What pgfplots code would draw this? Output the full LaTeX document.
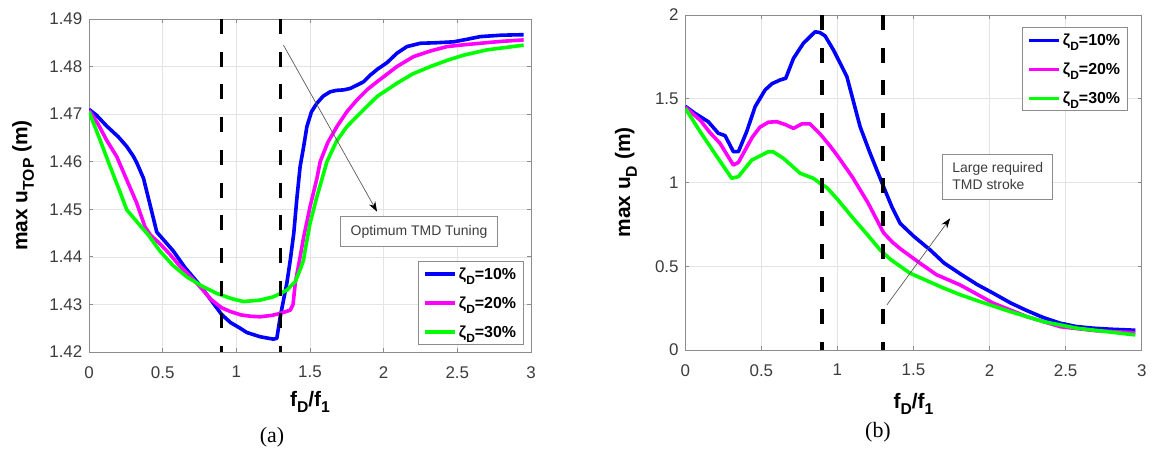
\documentclass[border=0pt]{standalone}
\usepackage{pgfplots}
\pgfplotsset{compat=1.18}
\usepackage{fontspec}
\setmainfont{Liberation Sans}
\newfontfamily\capfont{Liberation Serif}
\usetikzlibrary{arrows.meta}
\definecolor{mblue}{RGB}{0,0,255}
\definecolor{mmag}{RGB}{255,0,255}
\definecolor{mgreen}{RGB}{0,255,0}
\definecolor{tickgray}{RGB}{60,60,60}
\definecolor{framegray}{RGB}{140,140,140}
\definecolor{gridgray}{RGB}{228,228,228}
\newcommand\msub[1]{\raisebox{-0.32em}{\scalebox{0.75}{#1}}}

\pgfplotsset{
 mystyle/.style={
  scale only axis, anchor=south west,
  xmin=0, xmax=3, xtick={0,0.5,1,1.5,2,2.5,3},
  axis line style={framegray, line width=0.8bp},
  grid=major, grid style={gridgray, line width=0.6bp},
  tick align=inside, major tick length=4bp, tick style={framegray, line width=0.8bp},
  ticklabel style={font=\fontsize{17}{19}\selectfont, text=tickgray},
  /pgf/number format/assume math mode=true,
  yticklabel style={anchor=east, inner sep=0pt, xshift=-6.5bp},
  xticklabel style={anchor=north, inner sep=0pt, yshift=-14bp},
  label style={font=\fontsize{21}{24}\selectfont\bfseries},
  legend style={draw=framegray, fill=white, font=\fontsize{16}{18}\selectfont\bfseries, inner xsep=5bp, inner ysep=4bp, row sep=12bp, line width=0.8bp},
  legend cell align=left,
  legend image code/.code={\draw[#1] (0bp,0bp) -- (30bp,0bp);},
  every axis plot/.append style={line width=3.6bp, line join=round},
 }
}

\begin{document}
\begin{tikzpicture}
%%%%%%%%%%%%%%%% (a)
\begin{axis}[mystyle,
  at={(89bp,98bp)}, width=442bp, height=333bp,
  ymin=1.42, ymax=1.49, ytick={1.42,1.43,1.44,1.45,1.46,1.47,1.48,1.49},
  yticklabel style={/pgf/number format/.cd, fixed, fixed zerofill, precision=2},
  xlabel={f\msub{D}/f\msub{1}},
  ylabel={max u\msub{TOP} (m)},
  xlabel style={at={(axis description cs:0.5,-0.15)}, anchor=center},
  ylabel style={at={(axis description cs:-0.149,0.5)}, anchor=center},
  legend style={at={(0.983,0.021)}, anchor=south east},
]
\addplot[mblue] coordinates {
(0,1.4710) (0.05,1.4698) (0.12,1.4675) (0.2,1.4652) (0.256,1.4632) (0.3,1.4612)
(0.324,1.4598) (0.37,1.4565) (0.41,1.4515) (0.46,1.4452) (0.50,1.4438) (0.573,1.4412)
(0.65,1.4378) (0.754,1.4340) (0.845,1.4302) (0.9,1.4279) (0.96,1.4262)
(1.026,1.4250) (1.071,1.4241) (1.162,1.4232) (1.252,1.4227) (1.275,1.4229) (1.298,1.4274)
(1.343,1.4345) (1.366,1.4393) (1.39,1.4450) (1.41,1.4520) (1.433,1.4590) (1.456,1.4630)
(1.479,1.4674) (1.51,1.4705) (1.547,1.4723) (1.59,1.4738) (1.637,1.4747) (1.68,1.4750)
(1.728,1.4751) (1.773,1.4754) (1.819,1.4761) (1.864,1.4768) (1.909,1.4782) (1.96,1.4795)
(2.022,1.4808) (2.09,1.4828) (2.158,1.4842) (2.249,1.4849) (2.35,1.4850) (2.475,1.4852)
(2.56,1.4857) (2.656,1.4863) (2.80,1.4866) (2.95,1.4867)};
\addlegendentry{ζ\msub{D}=10\%}
\addplot[mmag] coordinates {
(0,1.4708) (0.06,1.4680) (0.12,1.4645) (0.188,1.4611) (0.256,1.4562) (0.324,1.4513)
(0.38,1.4463) (0.42,1.4445) (0.48,1.4428) (0.55,1.4405) (0.618,1.4380) (0.7,1.4355)
(0.754,1.4337) (0.83,1.4310) (0.9,1.4293) (0.96,1.4285) (1.03,1.4278) (1.1,1.4275)
(1.162,1.4274) (1.24,1.4277) (1.298,1.4281) (1.366,1.4288) (1.385,1.4300) (1.40,1.4345)
(1.433,1.4400) (1.456,1.4440) (1.50,1.4505) (1.547,1.4565) (1.569,1.4600) (1.62,1.4640)
(1.683,1.4674) (1.75,1.4705) (1.819,1.4730) (1.89,1.4752) (1.955,1.4768) (2.09,1.4800)
(2.203,1.4821) (2.32,1.4833) (2.43,1.4842) (2.55,1.4846) (2.656,1.4849) (2.80,1.4853)
(2.95,1.4856)};
\addlegendentry{ζ\msub{D}=20\%}
\addplot[mgreen] coordinates {
(0,1.4705) (0.07,1.4650) (0.143,1.4590) (0.2,1.4545) (0.256,1.4499) (0.33,1.4472)
(0.40,1.4447) (0.482,1.4412) (0.57,1.4382) (0.664,1.4358) (0.77,1.4338) (0.868,1.4323)
(0.97,1.4312) (1.048,1.4306) (1.16,1.4309) (1.252,1.4316) (1.343,1.4330) (1.40,1.4348)
(1.433,1.4373) (1.456,1.4393) (1.467,1.4414) (1.50,1.4470) (1.55,1.4530) (1.615,1.4600)
(1.68,1.4643) (1.751,1.4674) (1.85,1.4705) (1.955,1.4737) (2.09,1.4765) (2.2,1.4785)
(2.317,1.4800) (2.43,1.4813) (2.543,1.4824) (2.70,1.4835) (2.95,1.4845)};
\addlegendentry{ζ\msub{D}=30\%}
\addplot[black, line width=3.6bp, dash pattern=on 15bp off 17.7bp, forget plot] coordinates {(0.9,1.49) (0.9,1.42)};
\addplot[black, line width=3.6bp, dash pattern=on 15bp off 17.7bp, forget plot] coordinates {(1.3,1.49) (1.3,1.42)};
\draw[gray!70!black, line width=0.7bp, -{Stealth[black, length=10bp, width=7bp]}] (axis cs:1.32,1.4845) -- (axis cs:1.955,1.4495);
\node[draw=framegray, fill=white, line width=0.8bp, minimum width=157bp, minimum height=30bp, inner sep=0pt, font=\fontsize{14}{16}\selectfont, text=tickgray] at (axis cs:2.24,1.4453) {Optimum TMD Tuning};
\end{axis}
%%%%%%%%%%%%%%%% (b)
\begin{axis}[mystyle,
  at={(685.3bp,100bp)}, width=456.4bp, height=335bp,
  ymin=0, ymax=2, ytick={0,0.5,1,1.5,2},
  xlabel={f\msub{D}/f\msub{1}},
  ylabel={max u\msub{D} (m)},
  xlabel style={at={(axis description cs:0.5,-0.161)}, anchor=center},
  ylabel style={at={(axis description cs:-0.130,0.5)}, anchor=center},
  legend style={at={(0.969,0.963)}, anchor=north east},
]
\addplot[mblue] coordinates {
(0,1.455) (0.06,1.415) (0.151,1.363) (0.217,1.294) (0.261,1.280) (0.29,1.23)
(0.316,1.184) (0.349,1.184) (0.404,1.305) (0.459,1.453) (0.524,1.552) (0.57,1.59)
(0.623,1.612) (0.66,1.622) (0.711,1.741) (0.776,1.831) (0.853,1.900) (0.885,1.895)
(0.919,1.875) (0.974,1.791) (1.062,1.632) (1.149,1.333) (1.215,1.174) (1.303,0.975)
(1.36,0.85) (1.412,0.756) (1.5,0.68) (1.61,0.597) (1.70,0.52) (1.807,0.455)
(1.92,0.39) (2.026,0.338) (2.14,0.28) (2.246,0.235) (2.35,0.195) (2.465,0.160)
(2.57,0.140) (2.684,0.130) (2.80,0.124) (2.958,0.118)};
\addlegendentry{ζ\msub{D}=10\%}
\addplot[mmag] coordinates {
(0,1.450) (0.1,1.37) (0.16,1.30) (0.228,1.234) (0.316,1.104) (0.349,1.120)
(0.44,1.27) (0.49,1.33) (0.546,1.360) (0.601,1.363) (0.66,1.345) (0.711,1.323)
(0.766,1.350) (0.82,1.350) (0.886,1.29) (0.95,1.22) (1.0,1.16) (1.1,1.03)
(1.2,0.88) (1.303,0.70) (1.36,0.645) (1.412,0.605) (1.543,0.518) (1.65,0.45) (1.807,0.388)
(2.026,0.279) (2.246,0.199) (2.465,0.139) (2.70,0.115) (2.958,0.103)};
\addlegendentry{ζ\msub{D}=20\%}
\addplot[mgreen] coordinates {
(0,1.443) (0.1,1.30) (0.2,1.165) (0.305,1.025) (0.349,1.035) (0.437,1.134)
(0.546,1.184) (0.58,1.182) (0.645,1.144) (0.70,1.10) (0.755,1.055) (0.842,1.025)
(0.886,0.995) (0.93,0.970) (1.0,0.90) (1.1,0.79) (1.2,0.685) (1.281,0.597)
(1.35,0.54) (1.478,0.458) (1.697,0.37) (1.807,0.33) (1.917,0.295) (2.136,0.229)
(2.355,0.169) (2.575,0.130) (2.958,0.090)};
\addlegendentry{ζ\msub{D}=30\%}
\addplot[black, line width=3.6bp, dash pattern=on 15bp off 17.7bp, forget plot] coordinates {(0.9,2) (0.9,0)};
\addplot[black, line width=3.6bp, dash pattern=on 15bp off 17.7bp, forget plot] coordinates {(1.3,2) (1.3,0)};
\draw[gray!70!black, line width=0.7bp, -{Stealth[black, length=10bp, width=7bp]}] (axis cs:1.325,0.269) -- (axis cs:1.741,0.786);
\node[draw=framegray, fill=white, line width=0.8bp, minimum width=110bp, minimum height=45bp, inner sep=0pt, align=left, font=\fontsize{14}{17}\selectfont, text=tickgray] at (axis cs:2.054,1.036) {Large required\\TMD stroke};
\end{axis}
\node[font=\capfont\fontsize{22}{24}\selectfont] at (272bp,13bp) {(a)};
\node[font=\capfont\fontsize{22}{24}\selectfont] at (878bp,18bp) {(b)};
\pgfresetboundingbox
\useasboundingbox (0,0) rectangle (1153bp,450bp);
\end{tikzpicture}
\end{document}
